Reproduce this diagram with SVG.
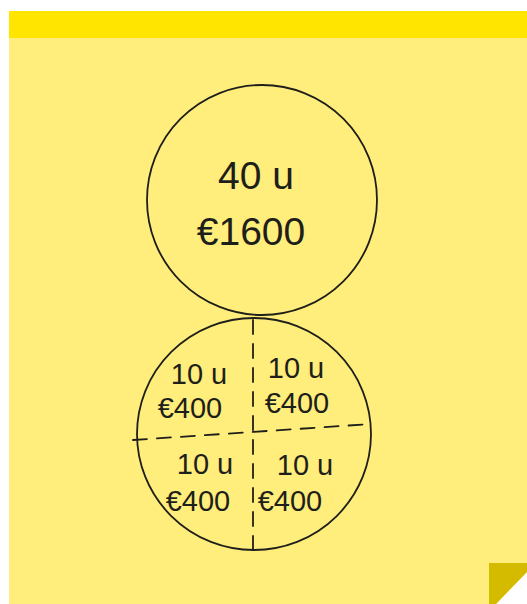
<svg xmlns="http://www.w3.org/2000/svg" width="527" height="604" viewBox="0 0 527 604">
<style>
.ink{fill:none;stroke:#1e1e1a;stroke-width:1.8;stroke-linecap:round}
.dash{fill:none;stroke:#1e1e1a;stroke-width:1.8;stroke-dasharray:14 10;stroke-linecap:round}
.t{font-family:"Liberation Sans","DejaVu Sans",sans-serif;fill:#1e1e1a;text-anchor:middle}
.big{font-size:39px}
.small{font-size:29px}
</style>
<rect width="527" height="604" fill="#ffffff"/>
<g id="note">
<polygon points="9,11 527,11 527,572 496,604 9,604" fill="#ffed7c"/>
<rect x="9" y="11" width="518" height="27" fill="#ffe500"/>
<polygon points="489,563 527,563 527,572 496,604 489,604" fill="#d4bb00"/>
</g>
<g id="whole">
<ellipse class="ink" cx="262" cy="200" rx="115" ry="115"/>
<text class="t big" x="256" y="189">40 u</text>
<text class="t big" x="251" y="245">€1600</text>
</g>
<g id="split">
<ellipse class="ink" cx="254" cy="434" rx="117" ry="116"/>
</g>
<g id="connectors">
<line class="dash" x1="253" y1="320" x2="253" y2="550"/>
<line class="dash" x1="133" y1="440" x2="371" y2="424"/>
</g>
<g id="q1"><text class="t small" x="199" y="384">10 u</text><text class="t small" x="190" y="418">€400</text></g>
<g id="q2"><text class="t small" x="296" y="378">10 u</text><text class="t small" x="297" y="413">€400</text></g>
<g id="q3"><text class="t small" x="205" y="474">10 u</text><text class="t small" x="198" y="511">€400</text></g>
<g id="q4"><text class="t small" x="305" y="475">10 u</text><text class="t small" x="290" y="511">€400</text></g>
</svg>
